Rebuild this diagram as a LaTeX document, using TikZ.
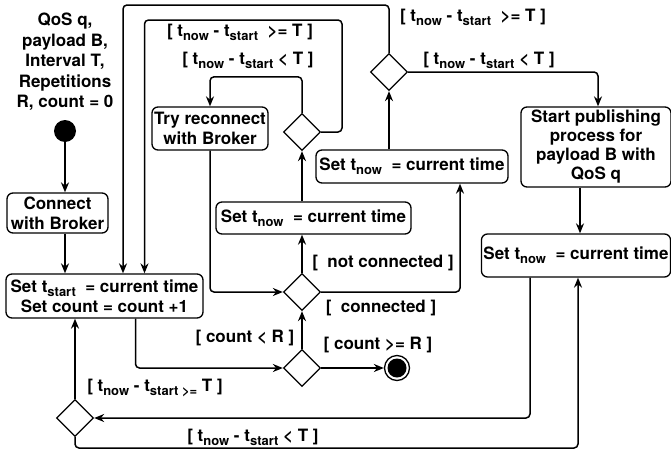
\documentclass[tikz,border=0pt]{standalone}
\usepackage{fontspec}
\setmainfont{TeX Gyre Heros}
\usetikzlibrary{positioning,arrows.meta,shapes.geometric}

% lowered small text for t_now, t_start
\newcommand{\lowtext}[1]{\raisebox{-4pt}{\fontsize{13}{13}\selectfont #1}}
\newcommand{\tnow}{t\lowtext{now}}
\newcommand{\tstart}{t\lowtext{start}}

\tikzset{
  every node/.style={font=\bfseries\fontsize{17}{20}\selectfont},
  action/.style={draw, rounded corners=6, line width=1.3, align=center, inner sep=2},
  decision/.style={diamond, draw, line width=1.3, minimum size=37, inner sep=0},
  guard/.style={inner sep=0},
  flow/.style={->, >={Stealth[length=10pt,width=8pt]}, line width=1.5, rounded corners=4}
}

\begin{document}
\begin{tikzpicture}[x=1pt, y=-1pt]
  \useasboundingbox (0,0) rectangle (671,455);

  \node (input) [align=center, font=\bfseries\fontsize{17}{20.5}\selectfont] at (65,62)
    {QoS q,\\payload B,\\Interval T,\\Repetitions\\R, count = 0};
  \node (start) [circle, fill, minimum size=22, inner sep=0] at (65,131) {};
  \node (connect) [action, minimum width=101, minimum height=40] at (57.5,213) {Connect\\with Broker};
  \node (setstart) [action, minimum width=197, minimum height=44] at (104.5,296)
    {Set \tstart{}\ \ = current time\\Set count = count +1};
  \node (retry) [action, minimum width=116, minimum height=43] at (210,128.5) {Try reconnect\\with Broker};
  \node (chk1) [decision] at (302,132) {};
  \node (setnowA) [action, minimum width=195, minimum height=32] at (313.5,218) {Set \tnow{}\ \ = current time};
  \node (chk2) [decision] at (302,292) {};
  \node (chkcount) [decision] at (302,368) {};
  \node (stop) [circle, draw, line width=1.3, minimum size=25, inner sep=0] at (397,368) {};
  \fill (stop) circle (9.5);
  \node (setnowB) [action, minimum width=192, minimum height=33] at (412,166.5) {Set \tnow{}\ \ = current time};
  \node (chk3) [decision] at (389,72) {};
  \node (publish) [action, minimum width=150, minimum height=80, font=\bfseries\fontsize{17}{19}\selectfont]
    at (596,147) {Start publishing\\process for\\payload B with\\QoS q};
  \node (setnowC) [action, minimum width=188, minimum height=43] at (576,255.5) {Set \tnow{}\ \ = current time};
  \node (chk4) [decision] at (75,418) {};

  \coordinate (loopA) at (342,20);
  \coordinate (loopB) at (389,5);
  \coordinate (loopC) at (75,448);

  \draw[flow] (start) -- (connect.north -| start);
  \draw[flow] (connect.south -| start) -- (setstart.north -| start);
  \draw[flow] ([xshift=31]setstart.south) |- (chkcount);
  \draw[flow] (chkcount) -- (chk2);
  \draw[flow] (chkcount) -- (stop);
  \draw[flow] (chk2) -- (setnowA.south -| chk2);
  \draw[flow] (chk2) -| ([xshift=48]setnowB.south);
  \draw[flow] (setnowA.north -| chk1) -- (chk1);
  \draw[flow] (chk1.north) -- ++(0,-36) -| (retry.north);
  \draw[flow] (retry.south) |- (chk2);
  \draw[flow] (chk1.east) -| (loopA) -| ([xshift=40]setstart.north);
  \draw[flow] (setnowB.north -| chk3) -- (chk3);
  \draw[flow] (chk3.north) -- (loopB) -| ([xshift=18.5]setstart.north);
  \draw[flow] (chk3.east) -| ([xshift=2]publish.north);
  \draw[flow] ([xshift=-16]publish.south) -- ([xshift=-16]publish.south |- setnowC.north);
  \draw[flow] ([xshift=-46]setnowC.south) |- (chk4);
  \draw[flow] (chk4.south) -- (loopC) -| ([xshift=2]setnowC.south);
  \draw[flow] (chk4.north) -- (chk4.north |- setstart.south);

  \node (g1) [guard] at (240,32) {[ \tnow{} - \tstart{}\ \ >= T ]};
  \node (g2) [guard] at (248,60) {[ \tnow{} - \tstart{} < T ]};
  \node (g3) [guard] at (473,17) {[ \tnow{} - \tstart{}\ \ >= T ]};
  \node (g4) [guard] at (489,60) {[ \tnow{} - \tstart{} < T ]};
  \node (g5) [guard] at (383,263) {[\ \ not connected ]};
  \node (g6) [guard] at (381,308) {[\ \ connected ]};
  \node (g7) [guard] at (245,338) {[ count < R ]};
  \node (g8) [guard] at (378,345) {[ count >= R ]};
  \node (g9) [guard] at (155,388) {[ \tnow{} - t\lowtext{start >=} T ]};
  \node (g10) [guard] at (253,437) {[ \tnow{} - \tstart{} < T ]};
\end{tikzpicture}
\end{document}
